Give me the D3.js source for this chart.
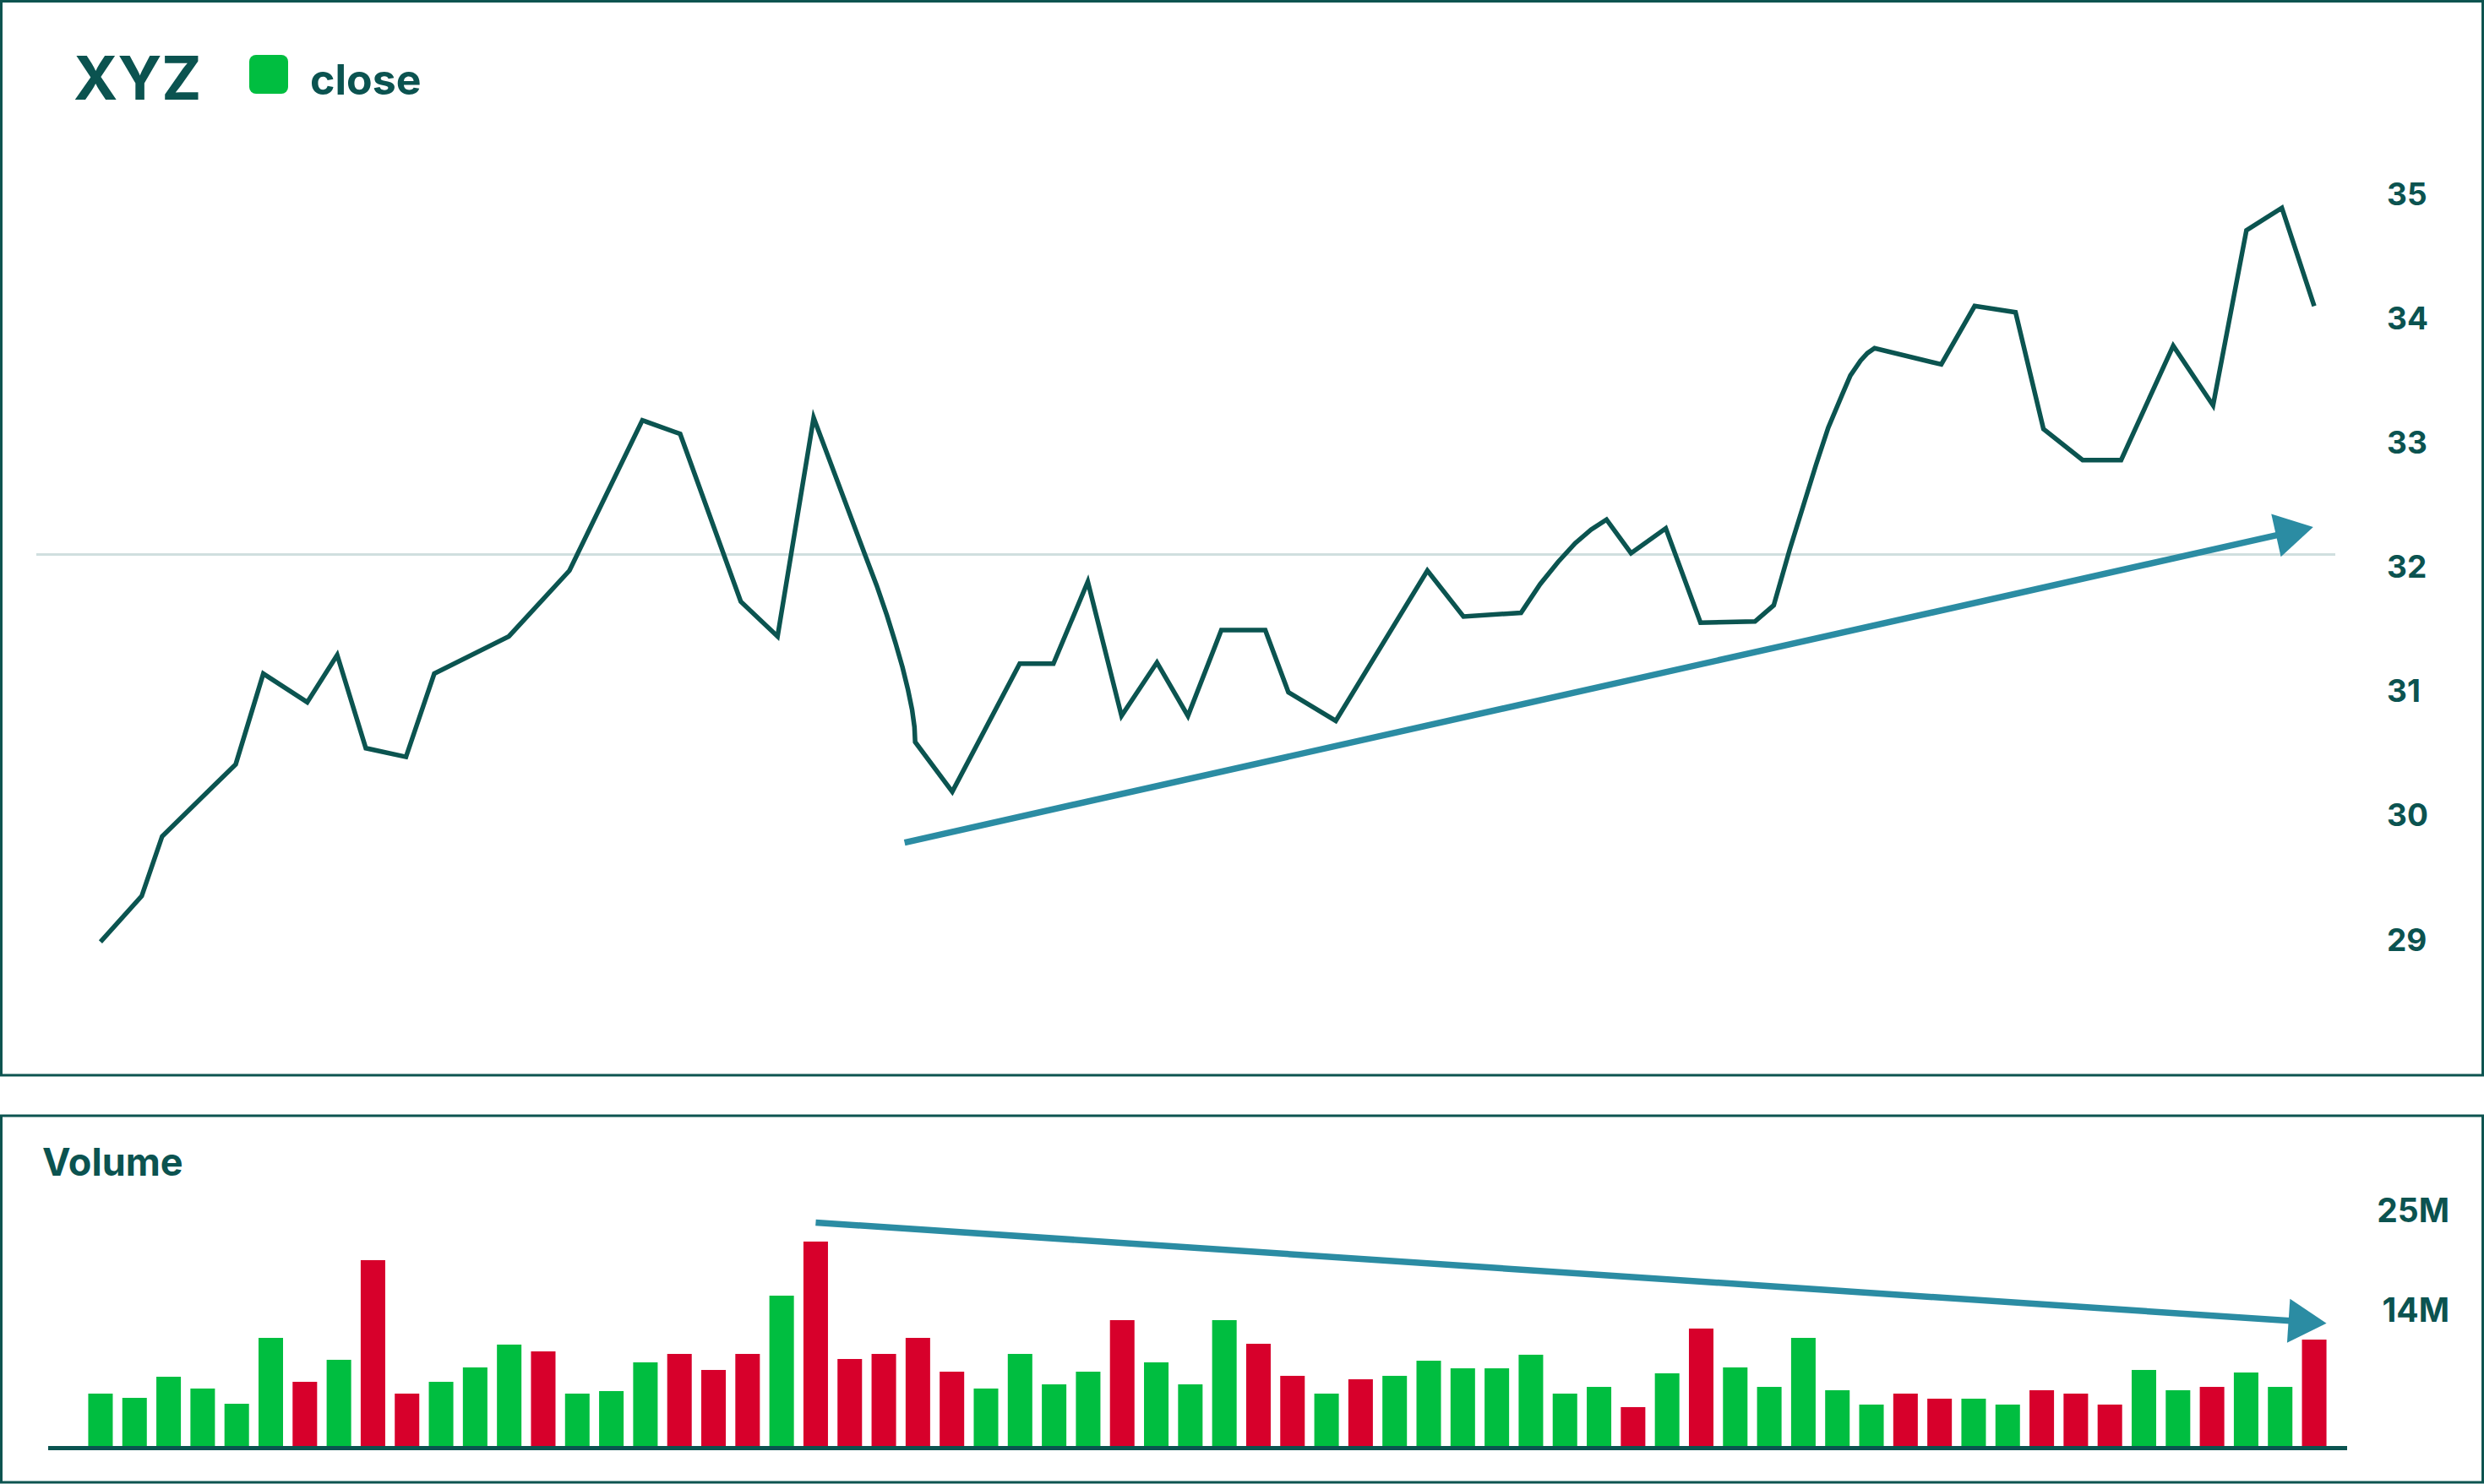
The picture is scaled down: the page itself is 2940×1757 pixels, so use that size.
<!DOCTYPE html>
<html>
<head>
<meta charset="utf-8">
<script src="https://cdn.jsdelivr.net/npm/d3@7"></script>
<style>
html, body { margin: 0; padding: 0; background: #ffffff; }
svg { display: block; font-family: Inter, "Noto Sans", sans-serif; }
</style>
</head>
<body>
<svg id="chart" width="2940" height="1757"></svg>
<script>
// ---------------- data ----------------
const title = "XYZ";
const seriesName = "close";
const volumeTitle = "Volume";

// trading-day index (x) of each close point
const closeDay = [0, 1.21, 1.81, 3.97, 4.78, 6.07, 6.95, 7.79, 8.97, 9.80,
  11.99, 13.77, 15.91, 17.02, 18.80, 19.88, 20.94, 22.43, 22.79, 23.09,
  23.34, 23.55, 23.71, 23.83, 23.90, 23.92, 25.01, 26.99, 27.98, 28.99,
  29.98, 31.02, 31.93, 32.91, 34.20, 34.88, 36.27, 38.96, 40.02, 41.71,
  42.27, 42.80, 43.30, 43.77, 44.22, 44.94, 45.96, 46.98, 48.58, 49.13,
  49.60, 50.37, 50.73, 51.13, 51.38, 51.68, 51.88, 52.09, 54.05, 55.03,
  56.23, 57.05, 58.20, 59.33, 60.86, 62.03, 63.01, 64.05, 65];
const closeValues = [29.07, 29.44, 29.92, 30.50, 31.23, 31.00, 31.38, 30.63, 30.56, 31.23,
  31.53, 32.06, 33.27, 33.16, 31.81, 31.53, 33.29, 32.20, 31.94, 31.70,
  31.48, 31.28, 31.10, 30.94, 30.80, 30.68, 30.28, 31.31, 31.31, 31.97,
  30.89, 31.32, 30.89, 31.58, 31.58, 31.08, 30.85, 32.06, 31.69, 31.72,
  31.95, 32.13, 32.28, 32.39, 32.47, 32.20, 32.40, 31.64, 31.65, 31.78,
  32.23, 32.91, 33.21, 33.47, 33.63, 33.75, 33.81, 33.85, 33.72, 34.19,
  34.14, 33.20, 32.95, 32.95, 33.87, 33.39, 34.80, 34.98, 34.19];

// daily volume in millions
const volumeValues = [6.08, 5.61, 7.94, 6.64, 4.96, 12.23, 7.38, 9.81, 20.81, 6.08,
  7.38, 8.97, 11.49, 10.74, 6.08, 6.36, 9.53, 10.46, 8.69, 10.46,
  16.89, 22.86, 9.90, 10.46, 12.23, 8.50, 6.64, 10.46, 7.10, 8.50,
  14.19, 9.53, 7.10, 14.19, 11.58, 8.04, 6.08, 7.66, 8.04, 9.71,
  8.87, 8.87, 10.37, 6.08, 6.82, 4.59, 8.32, 13.26, 8.97, 6.82,
  12.23, 6.45, 4.87, 6.08, 5.52, 5.52, 4.87, 6.45, 6.08, 4.87,
  8.69, 6.45, 6.82, 8.41, 6.82, 12.04];
// 1 = up day (green), 0 = down day (red)
const volumeUp = [1, 1, 1, 1, 1, 1, 0, 1, 0, 0,
  1, 1, 1, 0, 1, 1, 1, 0, 0, 0,
  1, 0, 0, 0, 0, 0, 1, 1, 1, 1,
  0, 1, 1, 1, 0, 0, 1, 0, 1, 1,
  1, 1, 1, 1, 1, 0, 1, 0, 1, 1,
  1, 1, 1, 0, 0, 1, 1, 0, 0, 0,
  1, 1, 0, 1, 1, 0];

const priceTicks = [29, 30, 31, 32, 33, 34, 35];
const priceTickLabels = ["29", "30", "31", "32", "33", "34", "35"];
const volumeTicks = [14, 25];
const volumeTickLabels = ["14M", "25M"];
const referenceLevel = 32.19;

// trend annotations: [day, value]
const priceTrendStart = [23.61, 29.87];
const priceTrendEnd = [64.97, 32.41];
const volumeTrendStart = [21, 24.96];
const volumeTrendEnd = [65.36, 13.84];

// ---------------- styles ----------------
const C = {
  ink: "#0b5350",
  border: "#0d5450",
  line: "#0b5450",
  grid: "#d0dfdf",
  up: "#00be40",
  down: "#d7002b",
  arrow: "#2b8ca3"
};

const svg = d3.select("#chart");
const dayIdx = d3.range(volumeValues.length);

// scales
const xb = d3.scaleBand().domain(dayIdx).range([98.8, 2759.2]).paddingInner(0.28).paddingOuter(0.14);
const x = d3.scaleLinear().domain([0, 65]).range([xb(0) + xb.bandwidth() / 2, xb(65) + xb.bandwidth() / 2]);
const y = d3.scaleLinear().domain([29, 35]).range([1125.5, 243.2]);
const yv = d3.scaleLinear().domain([0, 25]).range([1715.2, 1447]);

// ---------------- panels ----------------
svg.append("rect").attr("x", 1.5).attr("y", 1.5).attr("width", 2937).attr("height", 1271.5)
  .attr("fill", "#fff").attr("stroke", C.border).attr("stroke-width", 3);
svg.append("rect").attr("x", 1.5).attr("y", 1321).attr("width", 2937).attr("height", 434)
  .attr("fill", "#fff").attr("stroke", C.border).attr("stroke-width", 3);

// title + legend
svg.append("text").attr("x", 87).attr("y", 118).attr("fill", C.ink)
  .attr("font-size", 71).attr("font-weight", 700).text(title);
svg.append("rect").attr("x", 295).attr("y", 65).attr("width", 46).attr("height", 46)
  .attr("rx", 8).attr("fill", C.up);
svg.append("text").attr("x", 367).attr("y", 112).attr("fill", C.ink)
  .attr("font-size", 50).attr("font-weight", 700).text(seriesName);

// reference gridline
svg.append("line").attr("x1", 43).attr("x2", 2764)
  .attr("y1", y(referenceLevel)).attr("y2", y(referenceLevel))
  .attr("stroke", C.grid).attr("stroke-width", 3);

// price axis labels
svg.append("g").selectAll("text").data(priceTicks).join("text")
  .attr("x", 2825).attr("y", d => y(d))
  .attr("fill", C.ink).attr("font-size", 37).attr("font-weight", 700)
  .text((d, i) => priceTickLabels[i]);

// close line
const linePts = closeDay.map((d, i) => ({ t: d, v: closeValues[i] }));
svg.append("path").datum(linePts)
  .attr("d", d3.line().x(d => x(d.t)).y(d => y(d.v)))
  .attr("fill", "none").attr("stroke", C.line).attr("stroke-width", 5.5)
  .attr("stroke-linejoin", "miter").attr("stroke-miterlimit", 10);

// arrows
function arrow(p0, p1) {
  const dx = p1[0] - p0[0], dy = p1[1] - p0[1];
  const L = Math.hypot(dx, dy), ux = dx / L, uy = dy / L;
  const headLen = 45, halfW = 26;
  const bx = p1[0] - ux * headLen, by = p1[1] - uy * headLen;
  const g = svg.append("g");
  g.append("line").attr("x1", p0[0]).attr("y1", p0[1]).attr("x2", bx + ux * 2).attr("y2", by + uy * 2)
    .attr("stroke", C.arrow).attr("stroke-width", 7.5);
  g.append("path").attr("d", d3.line()([
    [p1[0], p1[1]],
    [bx - uy * halfW, by + ux * halfW],
    [bx + uy * halfW, by - ux * halfW]
  ]) + "Z").attr("fill", C.arrow);
}
arrow([x(priceTrendStart[0]), y(priceTrendStart[1])], [x(priceTrendEnd[0]), y(priceTrendEnd[1])]);

// ---------------- volume panel ----------------
svg.append("text").attr("x", 50).attr("y", 1392).attr("fill", C.ink)
  .attr("font-size", 45).attr("font-weight", 700).text(volumeTitle);

svg.append("g").selectAll("rect").data(dayIdx).join("rect")
  .attr("x", i => xb(i)).attr("width", xb.bandwidth())
  .attr("y", i => yv(volumeValues[i]))
  .attr("height", i => yv(0) - yv(volumeValues[i]))
  .attr("fill", i => volumeUp[i] ? C.up : C.down);

svg.append("line").attr("x1", 57).attr("x2", 2778)
  .attr("y1", 1714.5).attr("y2", 1714.5)
  .attr("stroke", C.ink).attr("stroke-width", 5);

svg.append("g").selectAll("text").data(volumeTicks).join("text")
  .attr("x", 2899).attr("y", d => yv(d)).attr("text-anchor", "end")
  .attr("fill", C.ink).attr("font-size", 39).attr("font-weight", 700)
  .text((d, i) => volumeTickLabels[i]);

arrow([x(volumeTrendStart[0]), yv(volumeTrendStart[1])], [x(volumeTrendEnd[0]), yv(volumeTrendEnd[1])]);
</script>
</body>
</html>
